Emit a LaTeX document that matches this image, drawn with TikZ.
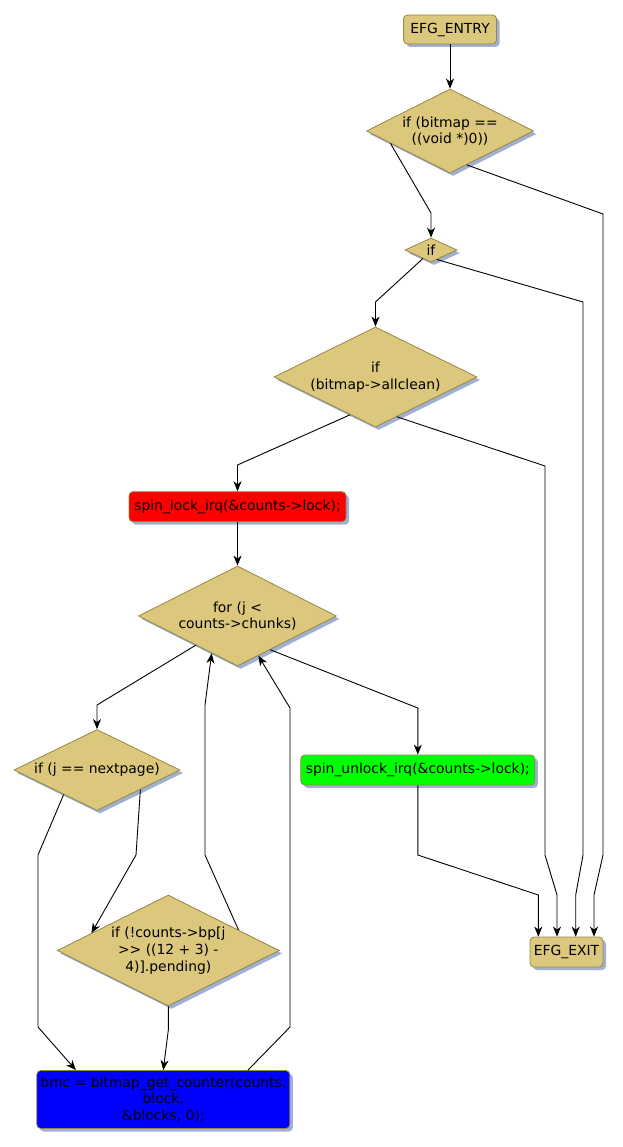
\documentclass[tikz,border=0pt]{standalone}
\usepackage{fontspec}
\setmainfont{DejaVu Sans}
\usetikzlibrary{shapes.geometric,arrows.meta,calc,shadows}
\definecolor{tan}{RGB}{220,200,125}
\definecolor{olive}{RGB}{150,135,70}
\definecolor{shade}{RGB}{160,176,210}
\begin{document}
\begin{tikzpicture}[x=1pt,y=-1pt,
  font=\fontsize{13.9pt}{16.7pt}\selectfont,
  base/.style={draw=olive,line width=0.8pt,inner sep=0pt,align=center,
    general shadow={fill=shade,shadow xshift=3pt,shadow yshift=-3pt}},
  dia/.style n args={3}{base,shape=diamond,fill=tan,minimum width=#1pt,minimum height=#2pt,aspect=#3},
  box/.style 2 args={base,rectangle,rounded corners=4pt,minimum width=#1,minimum height=#2},
  arr/.style={-{Stealth[length=10pt,width=8pt,inset=3pt]},line width=0.9pt,black},
  ln/.style={line width=0.9pt,black}]
\useasboundingbox (0,0) rectangle (622,1147);

\node[box={93pt}{29pt},fill=tan] (entry) at (450,29.5) {EFG\_ENTRY};
\node[dia={167}{84}{1.99}] (d1) at (450,131) {if (bitmap ==\\((void *)0))};
\node[dia={52}{24}{2.17}] (d2) at (431,250) {if};
\node[dia={203}{100}{2.03}] (d3) at (375.5,377) {if\\(bitmap->allclean)};
\node[box={217pt}{30pt},fill=red] (lock) at (237.5,506.7) {spin\_lock\_irq(\&counts->lock);};
\node[dia={198}{100}{1.98}] (d4) at (237.5,616) {for (j <\\counts->chunks)};
\node[dia={166}{81}{2.05}] (d5) at (97,770) {if (j == nextpage)};
\node[box={234pt}{30pt},fill=green] (unlock) at (417.8,770) {spin\_unlock\_irq(\&counts->lock);};
\node[dia={222}{111}{2.0}] (d6) at (168.3,950.5) {if (!counts->bp[j\\>{}> ((12 + 3) -\\4)].pending)};
\node[box={253pt}{58pt},fill=blue] (bmc) at (163.3,1099.5) {bmc = bitmap\_get\_counter(counts,\\block,\\\&blocks, 0);};
\node[box={73pt}{30pt},fill=tan] (exit) at (566.5,952) {EFG\_EXIT};

% entry -> d1
\draw[arr] (entry.south) -- (d1.north);
% d1
\draw[arr] ($(d1.west)!0.29!(d1.south)$) -- (431,213) -- (d2.north);
\draw[arr] ($(d1.south)!0.2!(d1.east)$) -- (603,214) -- (603,855) -- (594,895) -- ($(exit.north)+(27.5,0)$);
% d2
\draw[arr] ($(d2.west)!0.69!(d2.south)$) -- (375.5,302) -- (d3.north);
\draw[arr] ($(d2.south)!0.23!(d2.east)$) -- (583,302) -- (583,855) -- (575.7,895) -- ($(exit.north)+(9.2,0)$);
% d3
\draw[arr] ($(d3.west)!0.75!(d3.south)$) -- (237.5,465) -- (lock.north);
\draw[arr] ($(d3.south)!0.21!(d3.east)$) -- (545,466) -- (545,855) -- (557,895) -- ($(exit.north)+(-9.5,0)$);
% lock -> d4
\draw[arr] (lock.south) -- (d4.north);
% d4 out
\draw[arr] ($(d4.west)!0.58!(d4.south)$) -- (97,705) -- (d5.north);
\draw[arr] ($(d4.south)!0.33!(d4.east)$) -- (417.8,708) -- (unlock.north);
% d5 out
\draw[arr] ($(d5.west)!0.6!(d5.south)$) -- (38,855) -- (38,1027) -- ($(bmc.north west)+(39.5,0)$);
\draw[arr] ($(d5.south)!0.52!(d5.east)$) -- (136,855) -- ($(d6.west)!0.31!(d6.north)$);
% d6 out
\draw[arr] (d6.south) -- (168.3,1030) -- (bmc.north);
\draw[arr] ($(d6.north)!0.63!(d6.east)$) -- (205,855) -- (205,705) -- ($(d4.west)!0.74!(d4.south)$);
% bmc back to d4
\draw[arr] ($(bmc.north west)+(211.6,0)$) -- (290,1027) -- (290,708) -- ($(d4.south)!0.21!(d4.east)$);
% unlock -> exit
\draw[arr] (unlock.south) -- (417.8,855) -- (538.3,895) -- ($(exit.north)+(-28.2,0)$);
\end{tikzpicture}
\end{document}
